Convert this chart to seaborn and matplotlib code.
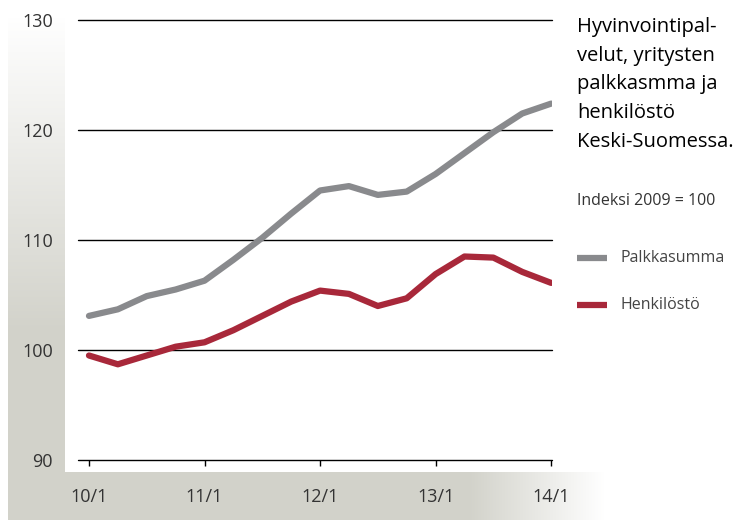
import numpy as np
import pandas as pd
import matplotlib
matplotlib.use('Agg')
import matplotlib.pyplot as plt
import seaborn as sns

# Neljännesvuosittaiset indeksit, 10/1 ... 14/1
kvartaalit = list(range(17))
palkkasumma = [103.1, 103.7, 104.9, 105.5, 106.3, 108.2, 110.2, 112.4, 114.5,
               114.9, 114.1, 114.4, 116.0, 117.9, 119.8, 121.5, 122.4]
henkilosto = [99.5, 98.7, 99.5, 100.3, 100.7, 101.8, 103.1, 104.4, 105.4,
              105.1, 104.0, 104.7, 106.9, 108.5, 108.4, 107.1, 106.1]
tick_pos = [0, 4, 8, 12, 16]
tick_labels = ['10/1', '11/1', '12/1', '13/1', '14/1']
y_ticks = [90, 100, 110, 120, 130]

df = pd.DataFrame({
    'kvartaali': kvartaalit * 2,
    'indeksi': palkkasumma + henkilosto,
    'sarja': ['Palkkasumma'] * 17 + ['Henkilöstö'] * 17,
})
varit = {'Palkkasumma': '#898a8d', 'Henkilöstö': '#a8283a'}

sns.set_style('white')
plt.rcParams['font.family'] = ['Open Sans', 'DejaVu Sans']

W, H = 750, 520
fig = plt.figure(figsize=(7.5, 5.2), dpi=100)

# taustan harmaat liukuvärinauhat
bg = fig.add_axes([0, 0, 1, 1], zorder=-1)
bg.set_xlim(0, W)
bg.set_ylim(H, 0)
bg.axis('off')
band = np.array([0.827, 0.824, 0.796])
a = np.clip(np.linspace(0, 1.6, 200), 0, 1)[:, None]
img = np.zeros((200, 1, 4))
img[..., :3] = band
img[..., 3] = a
bg.imshow(img, extent=[8, 65, H, 15], aspect='auto', origin='upper')
xs = np.linspace(8, 605, 400)
ah = np.clip((605 - xs) / (605 - 470), 0, 1)
img2 = np.zeros((1, 400, 4))
img2[..., :3] = band
img2[..., 3] = ah[None, :]
bg.imshow(img2, extent=[8, 605, H, 472], aspect='auto')

ax = fig.add_axes([78 / W, (H - 460) / H, (552 - 78) / W, 440 / H])
ax.set_facecolor('none')
sns.lineplot(data=df, x='kvartaali', y='indeksi', hue='sarja', palette=varit,
             linewidth=4.5, legend=False, ax=ax, solid_capstyle='round')

ax.set_ylim(90, 130)
ax.set_xlim(-0.38, 16.03)
for y in y_ticks:
    ax.axhline(y, color='black', lw=1, zorder=0, clip_on=False)
for s in ax.spines.values():
    s.set_visible(False)
ax.set_yticks(y_ticks)
ax.set_xticks(tick_pos)
ax.set_xticklabels(tick_labels)
ax.tick_params(axis='y', length=0, pad=18, labelsize=13, labelcolor='#333333')
ax.tick_params(axis='x', length=4.5, width=1, color='black', direction='out',
               pad=16, labelsize=13, labelcolor='#333333', bottom=True)
ax.set_xlabel('')
ax.set_ylabel('')

# otsikko ja selite oikealla
fig.text(577 / W, 1 - 17 / H,
         'Hyvinvointipal-\nvelut, yritysten\npalkkasmma ja\nhenkilöstö\nKeski-Suomessa.',
         ha='left', va='top', fontsize=14.5, color='black', linespacing=1.58)
fig.text(577 / W, 1 - 201 / H, 'Indeksi 2009 = 100', ha='left', va='center',
         fontsize=11.5, color='#333333')
for nimi, yp in [('Palkkasumma', 258), ('Henkilöstö', 305)]:
    bg.plot([577, 607], [yp, yp], color=varit[nimi], lw=4.5, solid_capstyle='butt')
    bg.text(621, yp, nimi, ha='left', va='center', fontsize=11.5, color='#444444')

fig.savefig('out.png', dpi=100)
